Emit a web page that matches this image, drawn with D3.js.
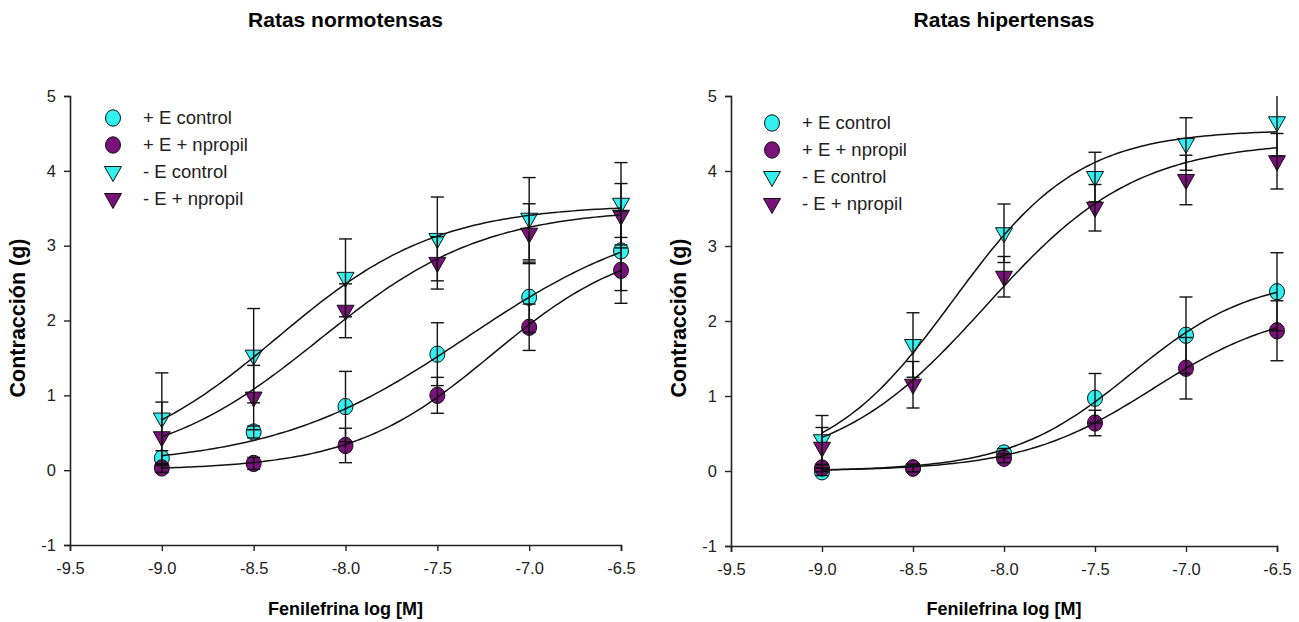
<!DOCTYPE html>
<html>
<head>
<meta charset="utf-8">
<script src="https://cdn.jsdelivr.net/npm/d3@7"></script>
<style>
  body { margin: 0; background: #fff; }
  text { font-family: "Liberation Sans", Arial, sans-serif; }
  .tick text { font-size: 16.5px; }
</style>
</head>
<body>
<div id="chart"></div>
<script>
const chart_width = 1299;
const chart_height = 622;

const cyan_color = '#30f0f0';
const purple_color = '#7a107a';

// doses (log M) and axis ticks
var doses = [-9.0, -8.5, -8.0, -7.5, -7.0, -6.5];
var x_ticks = [-9.5, -9.0, -8.5, -8.0, -7.5, -7.0, -6.5];
var y_ticks = [-1, 0, 1, 2, 3, 4, 5];
var series_names = ['+ E control', '+ E + npropil', '- E control', '- E + npropil'];
var panel_titles = ['Ratas normotensas', 'Ratas hipertensas'];

// normotensas: means and errors
var normo_ec = [0.16, 0.51, 0.85, 1.55, 2.31, 2.93];
var normo_ec_err = [0.10, 0.08, 0.47, 0.42, 0.47, 0.53];
var normo_enp = [0.03, 0.09, 0.33, 1.00, 1.91, 2.67];
var normo_enp_err = [0.06, 0.08, 0.23, 0.24, 0.31, 0.44];
var normo_sc = [0.69, 1.53, 2.57, 3.09, 3.36, 3.56];
var normo_sc_err = [0.61, 0.63, 0.52, 0.56, 0.55, 0.55];
var normo_snp = [0.44, 0.97, 2.13, 2.77, 3.16, 3.40];
var normo_snp_err = [0.47, 0.43, 0.36, 0.35, 0.40, 0.43];

// hipertensas: means and errors
var hiper_ec = [-0.01, 0.04, 0.24, 0.97, 1.81, 2.39];
var hiper_ec_err = [0.05, 0.05, 0.06, 0.33, 0.51, 0.52];
var hiper_enp = [0.04, 0.04, 0.17, 0.64, 1.37, 1.87];
var hiper_enp_err = [0.05, 0.05, 0.06, 0.17, 0.41, 0.40];
var hiper_sc = [0.41, 1.68, 3.17, 3.92, 4.36, 4.65];
var hiper_sc_err = [0.33, 0.43, 0.39, 0.33, 0.35, 0.45];
var hiper_snp = [0.31, 1.15, 2.59, 3.51, 3.88, 4.13];
var hiper_snp_err = [0.27, 0.31, 0.27, 0.31, 0.33, 0.37];

// sigmoid fit params per series: [bottom, top, logEC50, hill]
var normo_fits = [[0.05, 3.5, -7.34, 0.82], [0, 3.1, -7.2, 1.13], [0, 3.55, -8.37, 1.0], [0, 3.5, -8.14, 0.97]];
var hiper_fits = [[0, 2.6, -7.3, 1.3], [0, 2.2, -7.18, 1.2], [0, 4.55, -8.28, 1.25], [0, 4.4, -8.1, 1.05]];

var svg = d3.select('#chart').append('svg')
    .attr('width', chart_width)
    .attr('height', chart_height);

function sigmoid(p, x){
    return p[0] + (p[1] - p[0]) / (1 + Math.pow(10, (p[2] - x) * p[3]));
}

function draw_marker(g, shape, fill, cx, cy){
    if(shape == 'circle'){
        g.append('ellipse').attr('cx', cx).attr('cy', cy)
            .attr('rx', 7.5).attr('ry', 8.2)
            .attr('fill', fill).attr('stroke', '#111').attr('stroke-width', 1);
    } else {
        g.append('path')
            .attr('d', 'M-8.5,-5.5L8.5,-5.5L0,9.5Z')
            .attr('transform', 'translate(' + cx + ',' + cy + ')')
            .attr('fill', fill).attr('stroke', '#111').attr('stroke-width', 1);
    }
}

var shapes = ['circle', 'circle', 'tri', 'tri'];
var fills = [cyan_color, purple_color, cyan_color, purple_color];

function draw_panel(opt){
    var xScale = d3.scaleLinear().domain([-9.5, -6.5]).range([opt.left, opt.right]);
    var yScale = d3.scaleLinear().domain([-1, 5]).range([opt.bottom, opt.top]);
    var g = svg.append('g');

    // axes
    var xAxis = d3.axisBottom(xScale).tickValues(x_ticks).tickSize(6).tickPadding(11);
    var yAxis = d3.axisLeft(yScale).tickValues(y_ticks).tickSize(6).tickPadding(8);
    var gx = g.append('g').attr('transform', 'translate(0,' + opt.bottom + ')').call(xAxis);
    var gy = g.append('g').attr('transform', 'translate(' + opt.left + ',0)').call(yAxis);
    [gx, gy].forEach(function(a){
        a.attr('font-size', 16.5).attr('font-family', null);
        a.select('.domain').attr('stroke', '#222').attr('stroke-width', 1.6);
        a.selectAll('.tick line').attr('stroke', '#222').attr('stroke-width', 1.4);
        a.selectAll('.tick text').attr('fill', '#222');
    });
    gx.selectAll('.tick text').text(function(d){ return d.toFixed(1); });
    gy.selectAll('.tick text').text(function(d){ return String(d); });

    // titles
    var cx = (opt.left + opt.right) / 2;
    g.append('text').attr('x', cx).attr('y', 27).attr('text-anchor', 'middle')
        .attr('font-size', 21).attr('font-weight', 'bold').text(opt.title);
    g.append('text').attr('x', cx).attr('y', 615).attr('text-anchor', 'middle')
        .attr('font-size', 18).attr('font-weight', 'bold').text('Fenilefrina log [M]');
    g.append('text')
        .attr('transform', 'translate(' + opt.ylabel_x + ',318) rotate(-90)')
        .attr('text-anchor', 'middle')
        .attr('font-size', 21.5).attr('font-weight', 'bold').text('Contracción (g)');

    // markers
    var marks = g.append('g');
    for(var s = 0; s < 4; s++){
        for(var i = 0; i < doses.length; i++){
            draw_marker(marks, shapes[s], fills[s], xScale(doses[i]), yScale(opt.means[s][i]));
        }
    }

    // error bars (over the symbols, clipped to the plot top)
    var bars = g.append('g').attr('stroke', '#111').attr('stroke-width', 1.4);
    for(var s = 0; s < 4; s++){
        for(var i = 0; i < doses.length; i++){
            var x = xScale(doses[i]);
            var m = opt.means[s][i], e = opt.errs[s][i];
            var hi = m + e, lo = m - e;
            var hi_c = Math.min(hi, 5);
            bars.append('line').attr('x1', x).attr('x2', x)
                .attr('y1', yScale(lo)).attr('y2', yScale(hi_c));
            if(hi <= 5){
                bars.append('line').attr('x1', x - 6.5).attr('x2', x + 6.5)
                    .attr('y1', yScale(hi)).attr('y2', yScale(hi));
            }
            bars.append('line').attr('x1', x - 6.5).attr('x2', x + 6.5)
                .attr('y1', yScale(lo)).attr('y2', yScale(lo));
        }
    }

    // fitted curves
    var xs = d3.range(-9.0, -6.5 + 1e-9, 0.02);
    for(var s = 0; s < 4; s++){
        var p = opt.fits[s];
        var pts = xs.map(function(x){ return [xScale(x), yScale(sigmoid(p, x))]; });
        g.append('path').attr('d', d3.line()(pts))
            .attr('fill', 'none').attr('stroke', '#111').attr('stroke-width', 1.5);
    }

    // legend
    var lg = g.append('g');
    for(var s = 0; s < 4; s++){
        var ly = opt.legend_y + s * 27;
        draw_marker(lg, shapes[s], fills[s], opt.legend_x, ly);
        lg.append('text').attr('x', opt.legend_x + 30).attr('y', ly + 6)
            .attr('font-size', 18.5).attr('fill', '#222').text(series_names[s]);
    }
}

draw_panel({
    left: 70, right: 621, top: 96, bottom: 545,
    title: panel_titles[0], ylabel_x: 25,
    means: [normo_ec, normo_enp, normo_sc, normo_snp],
    errs: [normo_ec_err, normo_enp_err, normo_sc_err, normo_snp_err],
    fits: normo_fits,
    legend_x: 113, legend_y: 118
});

draw_panel({
    left: 731, right: 1277, top: 96, bottom: 546,
    title: panel_titles[1], ylabel_x: 686,
    means: [hiper_ec, hiper_enp, hiper_sc, hiper_snp],
    errs: [hiper_ec_err, hiper_enp_err, hiper_sc_err, hiper_snp_err],
    fits: hiper_fits,
    legend_x: 772, legend_y: 123
});
</script>
</body>
</html>
